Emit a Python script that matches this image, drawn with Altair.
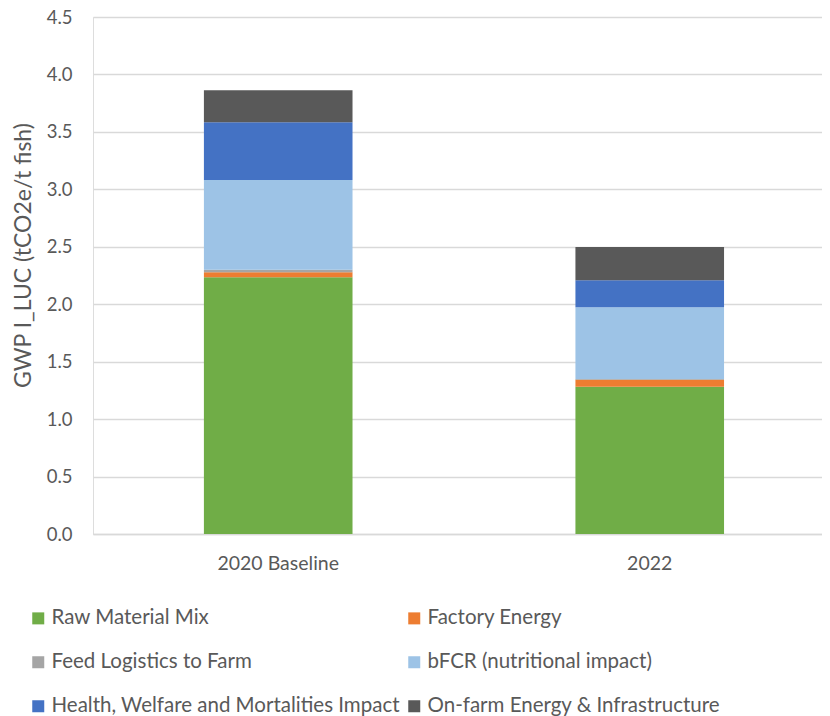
import altair as alt
import pandas as pd

periods = ["2020 Baseline", "2022"]
categories = [
    "Raw Material Mix",
    "Factory Energy",
    "Feed Logistics to Farm",
    "bFCR (nutritional impact)",
    "Health, Welfare and Mortalities Impact",
    "On-farm Energy & Infrastructure",
]
colors = ["#70AD47", "#ED7D31", "#A5A5A5", "#9DC3E6", "#4472C4", "#595959"]
values_2020 = [2.235, 0.044, 0.020, 0.783, 0.502, 0.278]
values_2022 = [1.281, 0.061, 0.008, 0.623, 0.235, 0.290]
y_ticks = [0.0, 0.5, 1.0, 1.5, 2.0, 2.5, 3.0, 3.5, 4.0, 4.5]

rows = []
for i, cat in enumerate(categories):
    rows.append({"period": periods[0], "category": cat, "idx": i, "value": values_2020[i]})
    rows.append({"period": periods[1], "category": cat, "idx": i, "value": values_2022[i]})
df = pd.DataFrame(rows)

FONT = "Lato"
TXT = "#595959"

chart = (
    alt.Chart(df)
    .mark_bar()
    .encode(
        x=alt.X(
            "period:N",
            sort=periods,
            scale=alt.Scale(paddingInner=0.6, paddingOuter=0.2811, align=0.531),
            axis=alt.Axis(
                title=None,
                labelAngle=0,
                labelFont=FONT,
                labelFontSize=19.5,
                labelColor=TXT,
                ticks=False,
                domain=True,
                domainColor="#d9d9d9",
                domainWidth=1.5,
                labelPadding=20,
            ),
        ),
        y=alt.Y(
            "value:Q",
            stack="zero",
            scale=alt.Scale(domain=[0, 4.5], nice=False, zero=True),
            axis=alt.Axis(
                values=y_ticks,
                format=".1f",
                grid=True,
                gridColor="#d9d9d9",
                gridWidth=1.5,
                domain=False,
                ticks=False,
                labelPadding=21,
                labelFont=FONT,
                labelFontSize=18.5,
                labelColor=TXT,
                title="GWP I_LUC (tCO2e/t fish)",
                titleFont=FONT,
                titleFontSize=23,
                titleFontWeight="normal",
                titleColor=TXT,
                titleX=-70,
                titleY=238,
                titleAngle=270,
                titleAlign="center",
                titleBaseline="middle",
            ),
        ),
        color=alt.Color(
            "category:N",
            scale=alt.Scale(domain=categories, range=colors),
            legend=alt.Legend(
                title=None,
                orient="none",
                direction="horizontal",
                legendX=-65,
                legendY=591,
                columns=2,
                symbolType="square",
                symbolSize=144,
                symbolStrokeWidth=0,
                labelFont=FONT,
                labelFontSize=20.5,
                labelColor=TXT,
                labelLimit=0,
                labelOffset=3,
                rowPadding=23,
                columnPadding=4,
                padding=0,
            ),
        ),
        order=alt.Order("idx:Q", sort="ascending"),
    )
    .properties(
        width=729,
        height=517,
        padding={"left": 85, "top": 9, "right": 0, "bottom": 182},
        autosize=alt.AutoSizeParams(type="none"),
    )
    .configure_view(stroke=None)
    .configure(background="white")
)

chart.save("out.html", embed_options={"renderer": "svg", "actions": False})
